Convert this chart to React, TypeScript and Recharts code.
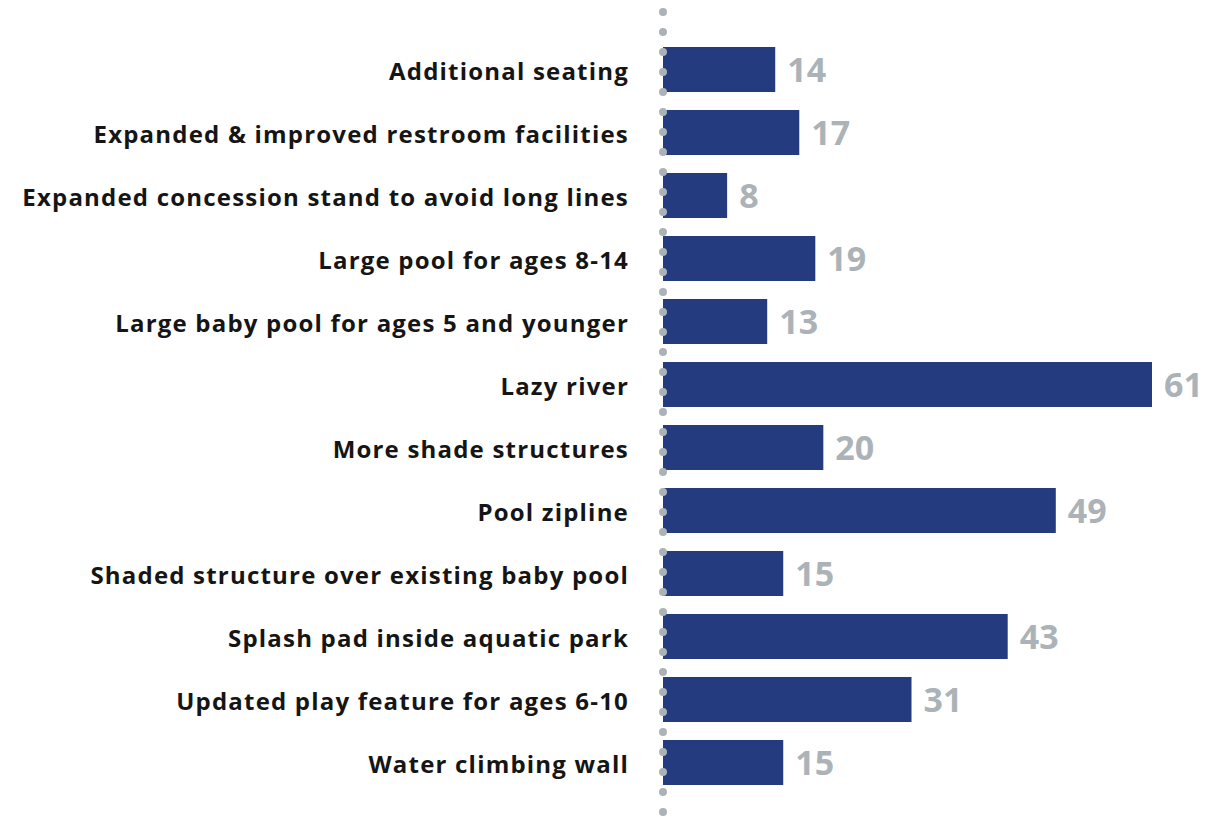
import { BarChart, Bar, XAxis, YAxis, LabelList } from "recharts";

// categories and counts
const categories = [
  "Additional seating",
  "Expanded & improved restroom facilities",
  "Expanded concession stand to avoid long lines",
  "Large pool for ages 8-14",
  "Large baby pool for ages 5 and younger",
  "Lazy river",
  "More shade structures",
  "Pool zipline",
  "Shaded structure over existing baby pool",
  "Splash pad inside aquatic park",
  "Updated play feature for ages 6-10",
  "Water climbing wall",
];

const counts = [14, 17, 8, 19, 13, 61, 20, 49, 15, 43, 31, 15];

const data = categories.map((name, i) => ({ name, count: counts[i] }));

const BAR_COLOR = "#243b7f";
const GREY = "#abb3b8";

function CategoryTick({ x, y, payload }: { x?: number; y?: number; payload?: { value: string } }) {
  return (
    <text
      x={(x ?? 0) - 26}
      y={(y ?? 0) + 2}
      dy="0.35em"
      textAnchor="end"
      fontSize={24}
      fontWeight={700}
      letterSpacing={1.2}
      fill="#151515"
      fontFamily="'Open Sans', sans-serif"
    >
      {payload?.value}
    </text>
  );
}

export default function App() {
  return (
    <div style={{ position: "absolute", left: 0, top: 0 }}>
      <BarChart
        width={1211}
        height={817}
        data={data}
        layout="vertical"
        margin={{ top: 12, right: 59, left: 0, bottom: 3 }}
      >
        <XAxis type="number" domain={[0, 61]} hide />
        <YAxis
          type="category"
          dataKey="name"
          width={663}
          padding={{ top: 26, bottom: 20 }}
          tickLine={false}
          axisLine={{
            stroke: GREY,
            strokeWidth: 8,
            strokeDasharray: "0 20",
            strokeLinecap: "round",
          }}
          tick={<CategoryTick />}
          interval={0}
        />
        <Bar dataKey="count" fill={BAR_COLOR} barSize={45} isAnimationActive={false}>
          <LabelList
            dataKey="count"
            position="right"
            offset={12}
            fill={GREY}
            fontSize={34}
            fontWeight={700}
            fontFamily="'Open Sans', sans-serif"
          />
        </Bar>
      </BarChart>
    </div>
  );
}
